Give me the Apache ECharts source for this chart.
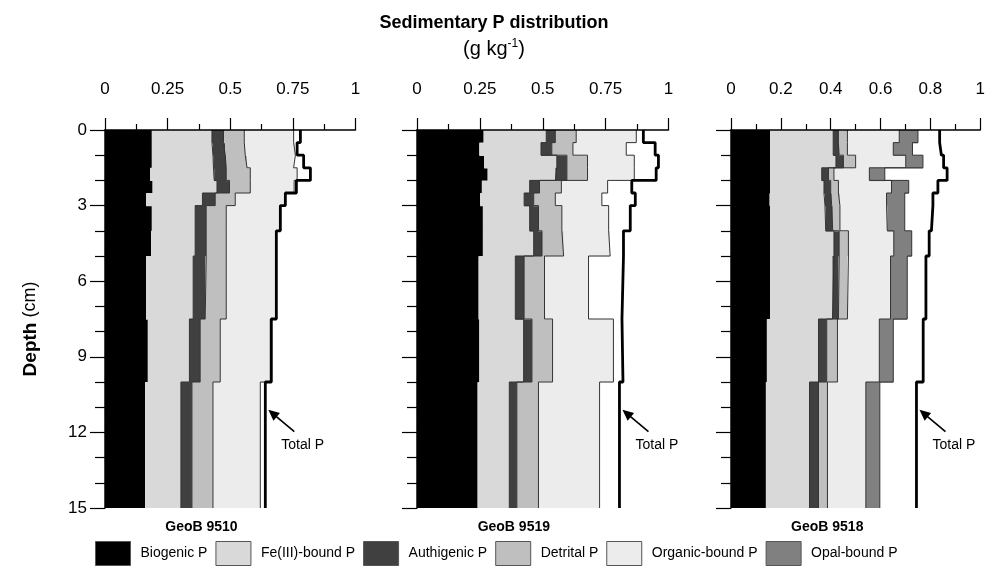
<!DOCTYPE html>
<html><head><meta charset="utf-8">
<script src="https://cdn.jsdelivr.net/npm/echarts@6/dist/echarts.min.js"></script>
<style>html,body{margin:0;padding:0;background:#fff}#c{width:988px;height:577px}</style>
</head><body><div id="c"></div>
<script>
// Depth interval boundaries (cm)
const depths = [0, 0.5, 1, 1.5, 2, 2.5, 3, 4, 5, 7.5, 10, 15];
const depthTicks = [0, 3, 6, 9, 12, 15];

// GeoB 9510 (g/kg), one value per depth interval
const g9510_biogenic  = [0.187, 0.187, 0.187, 0.180, 0.190, 0.164, 0.187, 0.184, 0.164, 0.171, 0.160];
const g9510_fe        = [0.240, 0.244, 0.246, 0.256, 0.257, 0.225, 0.173, 0.176, 0.188, 0.166, 0.143];
const g9510_authig    = [0.046, 0.049, 0.051, 0.048, 0.050, 0.051, 0.044, 0.044, 0.048, 0.043, 0.044];
const g9510_detrital  = [0.083, 0.080, 0.083, 0.096, 0.083, 0.080, 0.080, 0.080, 0.084, 0.080, 0.084];
const g9510_organic   = [0.197, 0.200, 0.186, 0.187, 0.175, 0.198, 0.213, 0.199, 0.199, 0.200, 0.189];
const g9510_total     = [0.780, 0.767, 0.793, 0.820, 0.764, 0.720, 0.700, 0.684, 0.684, 0.664, 0.640];

// GeoB 9519
const g9519_biogenic  = [0.265, 0.248, 0.267, 0.281, 0.258, 0.251, 0.262, 0.262, 0.245, 0.248, 0.241];
const g9519_fe        = [0.249, 0.245, 0.289, 0.269, 0.190, 0.175, 0.186, 0.202, 0.146, 0.176, 0.126];
const g9519_authig    = [0.036, 0.043, 0.040, 0.046, 0.039, 0.038, 0.035, 0.033, 0.035, 0.033, 0.030];
const g9519_detrital  = [0.083, 0.084, 0.082, 0.082, 0.087, 0.086, 0.093, 0.086, 0.081, 0.082, 0.086];
const g9519_organic   = [0.239, 0.212, 0.186, 0.186, 0.184, 0.185, 0.186, 0.185, 0.175, 0.242, 0.243];
const g9519_total     = [0.900, 0.947, 0.960, 0.951, 0.854, 0.868, 0.848, 0.821, 0.815, 0.819, 0.805];

// GeoB 9518
const g9518_biogenic  = [0.157, 0.157, 0.157, 0.157, 0.157, 0.155, 0.157, 0.157, 0.157, 0.144, 0.140];
const g9518_fe        = [0.253, 0.253, 0.264, 0.207, 0.216, 0.222, 0.223, 0.256, 0.250, 0.207, 0.175];
const g9518_authig    = [0.021, 0.024, 0.030, 0.027, 0.027, 0.027, 0.028, 0.021, 0.024, 0.033, 0.036];
const g9518_detrital  = [0.036, 0.033, 0.049, 0.022, 0.031, 0.033, 0.029, 0.037, 0.036, 0.043, 0.036];
const g9518_organic   = [0.208, 0.184, 0.201, 0.142, 0.213, 0.187, 0.190, 0.182, 0.173, 0.168, 0.154];
const g9518_opal      = [0.075, 0.077, 0.069, 0.062, 0.069, 0.073, 0.070, 0.072, 0.067, 0.056, 0.056];
const g9518_total     = [0.837, 0.844, 0.853, 0.867, 0.830, 0.810, 0.804, 0.795, 0.782, 0.771, 0.744];

const coreNames = ['GeoB 9510', 'GeoB 9519', 'GeoB 9518'];
const componentNames = ['Biogenic P', 'Fe(III)-bound P', 'Authigenic P', 'Detrital P', 'Organic-bound P', 'Opal-bound P'];
const componentColors = ['#000000', '#d9d9d9', '#404040', '#bfbfbf', '#ececec', '#808080'];
const xTickStep = [0.25, 0.25, 0.2];

const panels = [
  { comps: [g9510_biogenic, g9510_fe, g9510_authig, g9510_detrital, g9510_organic], total: g9510_total },
  { comps: [g9519_biogenic, g9519_fe, g9519_authig, g9519_detrital, g9519_organic], total: g9519_total },
  { comps: [g9518_biogenic, g9518_fe, g9518_authig, g9518_detrital, g9518_organic, g9518_opal], total: g9518_total }
];

const FONT = 'Liberation Sans, Arial, Helvetica, sans-serif';
const gridLeft = [105, 417, 731];
const gridWidth = [250.5, 251.5, 250];
const gridTop = 130, gridHeight = 378;
const maxDepth = depths[depths.length - 1];

function renderRect(params, api) {
  const a = api.coord([api.value(0), api.value(2)]);
  const b = api.coord([api.value(1), api.value(3)]);
  const extra = api.value(3) < maxDepth ? 0.7 : 0;
  return {
    type: 'rect',
    shape: { x: a[0], y: a[1], width: b[0] - a[0], height: b[1] - a[1] + extra },
    style: { fill: api.visual('color') }
  };
}
function stepPath(vals) {
  const pts = [];
  for (let i = 0; i < vals.length; i++) {
    pts.push([vals[i], depths[i]]);
    pts.push([vals[i], depths[i + 1]]);
  }
  return pts;
}

const grids = [], xAxes = [], yAxes = [], series = [];
panels.forEach((p, pi) => {
  grids.push({ left: gridLeft[pi], top: gridTop, width: gridWidth[pi], height: gridHeight });
  xAxes.push({
    type: 'value', gridIndex: pi, position: 'top', min: 0, max: 1, interval: xTickStep[pi], z: 10,
    axisLine: { show: true, lineStyle: { color: '#000', width: 1.5 } },
    axisTick: { show: true, length: 12, lineStyle: { color: '#000', width: 1.2 } },
    minorTick: { show: true, splitNumber: 2, length: 6, lineStyle: { color: '#000', width: 1.2 } },
    splitLine: { show: false }, minorSplitLine: { show: false },
    axisLabel: { fontSize: 17, color: '#000', fontFamily: FONT, margin: 32 }
  });
  yAxes.push({
    type: 'value', gridIndex: pi, inverse: true, min: 0, max: 15, interval: 3, z: 10,
    axisLine: { show: true, onZero: false, lineStyle: { color: '#000', width: 1.5 } },
    axisTick: { show: true, length: 15, lineStyle: { color: '#000', width: 1.2 } },
    minorTick: { show: true, splitNumber: 3, length: 10, lineStyle: { color: '#000', width: 1.2 } },
    splitLine: { show: false }, minorSplitLine: { show: false },
    axisLabel: { show: pi === 0, fontSize: 17, color: '#000', fontFamily: FONT, margin: 18 },
    name: pi === 0 ? '{b|Depth} (cm)' : '', nameLocation: 'middle', nameGap: 65, nameRotate: 90,
    nameTextStyle: { fontSize: 18, color: '#000', fontFamily: FONT, padding: [0, 20, 0, 0],
      rich: { b: { fontSize: 19, fontWeight: 'bold', fontFamily: FONT, color: '#000' } } }
  });
  const cum = depths.slice(0, -1).map(() => 0);
  p.comps.forEach((vals, ci) => {
    const data = vals.map((v, i) => {
      const left = cum[i];
      cum[i] = left + v;
      return [left, cum[i], depths[i], depths[i + 1]];
    });
    series.push({
      type: 'custom', name: componentNames[ci], xAxisIndex: pi, yAxisIndex: pi,
      itemStyle: { color: componentColors[ci] }, renderItem: renderRect, data: data, z: 2, silent: true
    });
    if (ci > 0) {
      series.push({
        type: 'line', xAxisIndex: pi, yAxisIndex: pi, data: stepPath(cum.slice()), symbol: 'none',
        lineStyle: { color: '#333', width: 1 }, z: 3, silent: true
      });
    }
  });
  series.push({
    type: 'line', name: 'Total P', xAxisIndex: pi, yAxisIndex: pi, data: stepPath(p.total), symbol: 'none',
    lineStyle: { color: '#000', width: 2.8 }, z: 4, silent: true
  });
});

const chart = echarts.init(document.getElementById('c'), null, { renderer: 'canvas' });
chart.setOption({
  animation: false,
  backgroundColor: '#fff',
  textStyle: { fontFamily: FONT },
  title: [
    { text: 'Sedimentary P distribution', left: 'center', top: 9,
      textStyle: { fontSize: 18, fontWeight: 'bold', color: '#000', fontFamily: FONT } },
    { text: '(g kg{sup|-1})', left: 'center', top: 33,
      textStyle: { fontSize: 20, fontWeight: 'normal', color: '#000', fontFamily: FONT,
        rich: { sup: { fontSize: 12, padding: [0, 0, 10, 0], color: '#000', fontFamily: FONT } } } }
  ],
  legend: {
    left: 95, top: 541, padding: 0, itemWidth: 35, itemHeight: 24, itemGap: 8, icon: 'rect',
    textStyle: { fontSize: 14, color: '#000', fontFamily: FONT, padding: [0, 0, 0, 5] },
    data: componentNames.map((n, i) => ({ name: n, itemStyle: { color: componentColors[i], borderColor: '#555', borderWidth: 1 } })),
    selectedMode: false
  },
  grid: grids, xAxis: xAxes, yAxis: yAxes, series: series
});

// Annotations: panel names and "Total P" arrows, placed via the chart's coordinate system
const graphics = [];
panels.forEach((p, pi) => {
  graphics.push({
    type: 'text', x: gridLeft[pi] + gridWidth[pi] * 0.385, y: 527,
    style: { text: coreNames[pi], fill: '#000', font: 'bold 14px ' + FONT, align: 'center', verticalAlign: 'middle' }, z: 20
  });
  const last = p.total[p.total.length - 1];
  const pt = chart.convertToPixel({ gridIndex: pi }, [last, 11.1]);
  const hx = pt[0] + 3, hy = pt[1];
  const tx = hx + 26, ty = hy + 22;
  const dx = hx - tx, dy = hy - ty, len = Math.hypot(dx, dy);
  const ux = dx / len, uy = dy / len;
  const hl = 11, hw = 5;
  const bx = hx - ux * hl, by = hy - uy * hl;
  graphics.push({ type: 'line', shape: { x1: tx, y1: ty, x2: bx + ux * 2, y2: by + uy * 2 }, style: { stroke: '#000', lineWidth: 1.6 }, z: 20 });
  graphics.push({ type: 'polygon', shape: { points: [[hx, hy], [bx - uy * hw, by + ux * hw], [bx + uy * hw, by - ux * hw]] }, style: { fill: '#000' }, z: 20 });
  graphics.push({ type: 'text', x: tx - 13, y: ty + 13, style: { text: 'Total P', font: '14px ' + FONT, fill: '#000', verticalAlign: 'middle' }, z: 20 });
});
chart.setOption({ graphic: graphics });
</script>
</body></html>
